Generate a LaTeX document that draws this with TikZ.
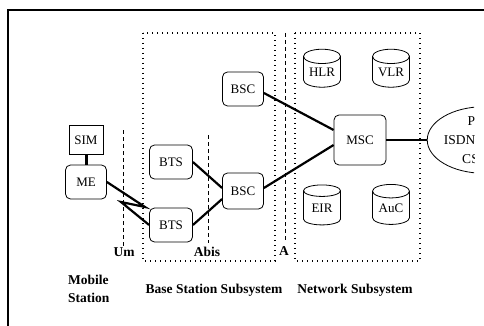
\documentclass[tikz,border=0pt]{standalone}
\usepackage{fontspec}
\setmainfont{Liberation Serif}
\usetikzlibrary{shapes.geometric}
\begin{document}
\begin{tikzpicture}[x=1pt,y=-1pt,
  every node/.style={font=\fontsize{13}{14}\selectfont},
  unit/.style={draw, rounded corners=5pt, minimum width=41pt, minimum height=34pt, inner sep=0pt, line width=0.8pt},
  db/.style={draw, cylinder, shape border rotate=90, aspect=0.55, minimum width=37pt, minimum height=38pt, inner sep=0pt, line width=0.8pt},
  link/.style={line width=2.2pt, line join=miter},
  region/.style={line width=1.2pt, dash pattern=on 1pt off 4pt},
  iface/.style={line width=0.8pt, dash pattern=on 4pt off 3pt},
  lab/.style={font=\bfseries\fontsize{13.5}{18}\selectfont, inner sep=0pt},
]
\useasboundingbox (0,0) rectangle (484,326);
\clip (0,0) rectangle (484,326);
\fill[white] (0,0) rectangle (484,326);
\draw[line width=2pt] (8,326) -- (8,10) -- (484,10);

% subsystem regions
\draw[region] (143,33) rectangle (275,261);
\draw[region] (295,33) rectangle (420,261);

% interfaces
\draw[iface] (123,130) -- (123,246);
\draw[iface] (208,135) -- (208,243);
\draw[iface] (285,33) -- (285,241);

% elements
\node[draw, minimum width=34pt, minimum height=29pt, inner sep=0pt, line width=0.8pt] (sim) at (86,140) {SIM};
\node[unit] (me) at (86,182) {ME};
\node[unit, minimum width=43pt] (bts1) at (171,162) {BTS};
\node[unit, minimum width=43pt] (bts2) at (171,225) {BTS};
\node[unit] (bsc1) at (243,89) {BSC};
\node[unit, minimum height=36pt] (bsc2) at (243,191) {BSC};
\node[unit, minimum width=52pt, minimum height=50pt] (msc) at (360,140) {MSC};
\node[db] (hlr) at (322,72) {HLR};
\node[db] (vlr) at (391,72) {VLR};
\node[db, minimum height=40pt] (eir) at (322,208) {EIR};
\node[db, minimum height=40pt] (auc) at (391,208) {AuC};
\begin{scope}
  \clip (0,0) rectangle (474,326);
  \node[draw, ellipse, minimum width=106pt, minimum height=62pt, inner sep=0pt, align=center, line width=0.8pt,
    font=\fontsize{13.5}{19}\selectfont] (pstn) at (484,140) {PSTN\\ISDN, PSPDN\\CSPDN};
\end{scope}

% connectors
\coordinate (z1) at (145,207);
\coordinate (z2) at (121,202);
\draw[link, line width=3pt] (sim) -- (me);
\draw[link] (me.east) -- (z1) -- (z2) -- (bts2.west);
\draw[link] (bts1.east) -- ([yshift=3pt]bsc2.west);
\draw[link] (bts2.east) -- ([yshift=-8pt]bsc2.west);
\draw[link] ([yshift=-4pt]bsc1.east) -- ([yshift=10pt]msc.west);
\draw[link] ([yshift=3pt]bsc2.east) -- ([yshift=-5pt]msc.west);
\draw[link] (msc.east) -- (pstn.west);

% labels
\node[lab] (um) at (124,252) {Um};
\node[lab] (abis) at (207,252) {Abis};
\node[lab] (alab) at (284,251) {A};
\node[lab, align=left, anchor=west] (ms) at (68,289) {Mobile\\Station};
\node[lab] (bsslab) at (214,290) {Base Station Subsystem};
\node[lab] (nsslab) at (355,290) {Network Subsystem};
\end{tikzpicture}
\end{document}
